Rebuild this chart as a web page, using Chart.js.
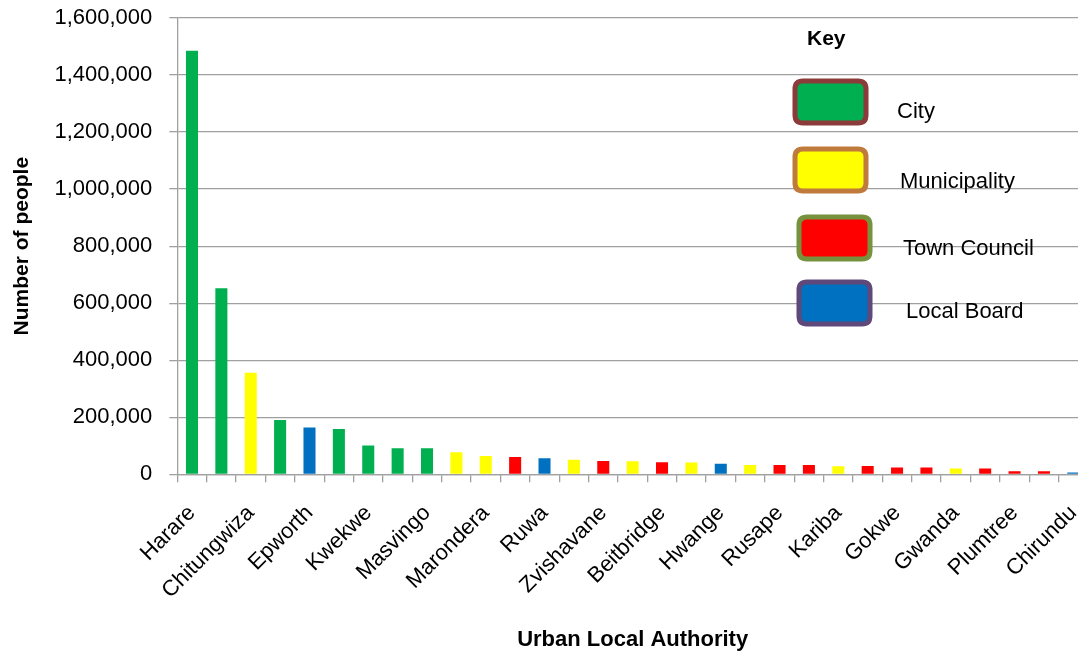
<!DOCTYPE html>
<html>
<head>
<meta charset="utf-8">
<script src="https://cdn.jsdelivr.net/npm/chart.js@4/dist/chart.umd.min.js"></script>
<style>
  html, body { margin: 0; padding: 0; background: #fff; overflow: hidden; }
  #wrap { position: absolute; left: 0; top: 0; width: 1088px; height: 655px; }
</style>
</head>
<body>
<div id="wrap"><canvas id="c" width="1088" height="655"></canvas></div>
<script>
// ---- data ----
const categories = ["Harare","Bulawayo","Chitungwiza","Mutare","Epworth","Gweru","Kwekwe","Kadoma","Masvingo","Chinhoyi","Marondera","Norton","Ruwa","Chegutu","Zvishavane","Bindura","Beitbridge","Victoria Falls","Hwange","Redcliff","Rusape","Chiredzi","Kariba","Karoi","Gokwe","Chipinge","Gwanda","Shurugwi","Plumtree","Mvurwi","Chirundu"];
const population = [1485000,652000,356000,190000,164000,159000,101000,91000,91000,77000,64000,61000,56000,51000,47000,46000,42000,41000,37000,33000,33000,33000,28000,29000,24000,24000,20000,20000,11000,11000,6000];
const authorityType = ["City","City","Municipality","City","Local Board","City","City","City","City","Municipality","Municipality","Town Council","Local Board","Municipality","Town Council","Municipality","Town Council","Municipality","Local Board","Municipality","Town Council","Town Council","Municipality","Town Council","Town Council","Town Council","Municipality","Town Council","Town Council","Town Council","Local Board"];
const keyLabels = ["City","Municipality","Town Council","Local Board"];
const yTicks = [0,200000,400000,600000,800000,1000000,1200000,1400000,1600000];

const typeFill = {"City":"#00b050","Municipality":"#ffff00","Town Council":"#ff0000","Local Board":"#0070c0"};
const typeBorder = {"City":"#8c3b3b","Municipality":"#c07a3c","Town Council":"#76923c","Local Board":"#5f497a"};

const FONT = "'Liberation Sans', Arial, sans-serif";
const NARROW = "'Liberation Sans Narrow', 'Arial Narrow', 'Liberation Sans', Arial, sans-serif";

function roundRect(ctx, x, y, w, h, r) {
  ctx.beginPath();
  ctx.moveTo(x + r, y);
  ctx.lineTo(x + w - r, y);
  ctx.quadraticCurveTo(x + w, y, x + w, y + r);
  ctx.lineTo(x + w, y + h - r);
  ctx.quadraticCurveTo(x + w, y + h, x + w - r, y + h);
  ctx.lineTo(x + r, y + h);
  ctx.quadraticCurveTo(x, y + h, x, y + h - r);
  ctx.lineTo(x, y + r);
  ctx.quadraticCurveTo(x, y, x + r, y);
  ctx.closePath();
}

const keyPlugin = {
  id: 'keyPlugin',
  afterDraw(chart) {
    const ctx = chart.ctx;
    ctx.save();
    ctx.fillStyle = '#000';
    ctx.font = "bold 21px " + FONT;
    ctx.textAlign = 'left';
    ctx.textBaseline = 'alphabetic';
    ctx.fillText('Key', 807, 45);
    const boxes = [
      {x: 795, y: 81, tx: 897, ty: 118},
      {x: 795, y: 149, tx: 900, ty: 188},
      {x: 799, y: 217, tx: 903, ty: 255},
      {x: 799, y: 282, tx: 906, ty: 318}
    ];
    keyLabels.forEach((lab, i) => {
      const b = boxes[i];
      roundRect(ctx, b.x, b.y, 71, 42, 8);
      ctx.fillStyle = typeFill[lab];
      ctx.fill();
      ctx.lineWidth = 5;
      ctx.strokeStyle = typeBorder[lab];
      ctx.stroke();
      ctx.fillStyle = '#000';
      ctx.font = "22px " + FONT;
      ctx.fillText(lab, b.tx, b.ty);
    });
    ctx.restore();
  }
};

new Chart(document.getElementById('c'), {
  type: 'bar',
  data: {
    labels: categories,
    datasets: [{
      label: 'Number of people',
      data: population,
      backgroundColor: authorityType.map(t => typeFill[t]),
      borderWidth: 0,
      categoryPercentage: 1.0,
      barPercentage: 0.41
    }]
  },
  options: {
    responsive: false,
    animation: false,
    devicePixelRatio: 1,
    layout: { padding: { top: 18, left: 0, right: 0, bottom: 0 } },
    plugins: { legend: { display: false }, tooltip: { enabled: false } },
    scales: {
      x: {
        offset: true,
        grid: { offset: true, drawOnChartArea: false, drawTicks: true, tickLength: 8, color: '#a0a0a0', lineWidth: 1.3 },
        border: { color: '#a0a0a0', width: 1.3 },
        ticks: {
          autoSkip: false, maxRotation: 45, minRotation: 45, padding: 18,
          color: '#000', font: { family: FONT, size: 22 },
          callback: function(v, i) { return i % 2 === 0 ? categories[i] : ''; }
        },
        title: { display: true, text: 'Urban Local Authority', color: '#000',
                 font: { family: NARROW, size: 22, weight: 'bold' }, padding: { top: 0, bottom: 2 } },
        afterFit(scale) { scale.height = 180.7; scale.paddingLeft = 0; scale.paddingRight = 0; }
      },
      y: {
        min: 0, max: 1600000,
        afterBuildTicks(scale) { scale.ticks = yTicks.map(v => ({ value: v })); },
        grid: { color: '#a0a0a0', lineWidth: 1.3, tickLength: 8 },
        border: { color: '#a0a0a0', width: 1.3 },
        ticks: { padding: 17, color: '#000', font: { family: FONT, size: 22 },
                 callback: v => Number(v).toLocaleString('en-US') },
        title: { display: true, text: 'Number of people', color: '#000',
                 font: { family: NARROW, size: 21, weight: 'bold' }, padding: { top: 10, bottom: 0 } },
        afterFit(scale) { scale.width = 177.3; scale.paddingTop = 0; scale.paddingBottom = 0; }
      }
    }
  },
  plugins: [keyPlugin]
});
</script>
</body>
</html>
